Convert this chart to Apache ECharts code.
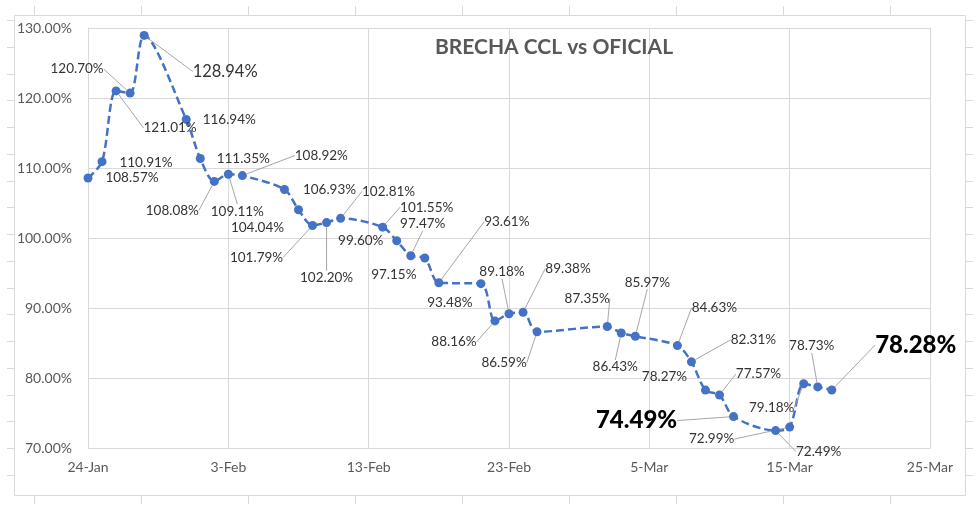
<!DOCTYPE html>
<html><head><meta charset="utf-8">
<script src="https://cdn.jsdelivr.net/npm/echarts@6/dist/echarts.min.js"></script>
<style>html,body{margin:0;padding:0;background:#fff}#c{width:980px;height:512px}</style>
</head><body><div id="c"></div>
<script>
// ---- data ----
const startDate = '2022-01-24';
const dates = ['2022-01-24','2022-01-25','2022-01-26','2022-01-27','2022-01-28','2022-01-31','2022-02-01','2022-02-02','2022-02-03','2022-02-04',
  '2022-02-07','2022-02-08','2022-02-09','2022-02-10','2022-02-11','2022-02-14','2022-02-15','2022-02-16','2022-02-17','2022-02-18',
  '2022-02-21','2022-02-22','2022-02-23','2022-02-24','2022-02-25','2022-03-02','2022-03-03','2022-03-04','2022-03-07','2022-03-08',
  '2022-03-09','2022-03-10','2022-03-11','2022-03-14','2022-03-15','2022-03-16','2022-03-17','2022-03-18'];
const values = [108.57,110.91,121.01,120.70,128.94,116.94,111.35,108.08,109.11,108.92,
  106.93,104.04,101.79,102.20,102.81,101.55,99.60,97.47,97.15,93.61,
  93.48,88.16,89.18,89.38,86.59,87.35,86.43,85.97,84.63,82.31,
  78.27,77.57,74.49,72.49,72.99,79.18,78.73,78.28];
const xTickLabels = ['24-Jan','3-Feb','13-Feb','23-Feb','5-Mar','15-Mar','25-Mar'];
const yMin = 70, yMax = 130, yStep = 10;
const xMin = 0, xMax = 60, xStep = 10;

// ---- label styling (offset of label centre from its point, leader flag, size) ----
const labelOffsets = [[44,0],[44,1],[54,37],[-53,-24],[81,36],[43,0],[43,0],[-42,29],[9,37],[79,-20],
  [45,0],[-41,18],[-56,32],[0,55],[48,-27],[44,-20],[-36,0],[12,-32],[-31,17],[68,-61],
  [-31,19],[-41,21],[-7,-42],[45,-44],[-33,31],[-20,-28],[-6,34],[12,-54],[37,-38],[62,-22],
  [-41,-13],[39,-21],[-97,4],[43,21],[-78,12],[-32,24],[-6,-41],[84,-45]];
const noLeader = [0,1,5,6,10,11,16,18,20,30];
const bigLabels = {4:{fontSize:16.5,fontWeight:'normal'},32:{fontSize:24,fontWeight:900,color:'#000'},37:{fontSize:24,fontWeight:900,color:'#000'}};

const dayMs = 86400000;
const t0 = Date.parse(startDate + 'T00:00:00Z');
const dayOf = d => Math.round((Date.parse(d + 'T00:00:00Z') - t0) / dayMs);

const seriesData = dates.map((d, i) => {
  const item = {value: [dayOf(d), values[i]], labelLine: {show: noLeader.indexOf(i) < 0}};
  if (bigLabels[i]) item.label = bigLabels[i];
  return item;
});

// decorative outer frame
const frame = [{type:'rect', shape:{x:14.5,y:15.5,width:951,height:480}, style:{fill:'none', stroke:'#d9d9d9', lineWidth:1}, silent:true}];
for (let k = 0; k < 9; k++) {
  const x = 34.5 + 107 * k;
  frame.push({type:'line', shape:{x1:x,y1:6,x2:x,y2:15}, style:{stroke:'#d9d9d9',lineWidth:1}, silent:true});
  frame.push({type:'line', shape:{x1:x,y1:496,x2:x,y2:504}, style:{stroke:'#d9d9d9',lineWidth:1}, silent:true});
}
for (let k = 0; k < 18; k++) {
  const y = Math.round(20 + 26.75 * k) + 0.5;
  frame.push({type:'line', shape:{x1:7,y1:y,x2:14,y2:y}, style:{stroke:'#d9d9d9',lineWidth:1}, silent:true});
  frame.push({type:'line', shape:{x1:966,y1:y,x2:973,y2:y}, style:{stroke:'#d9d9d9',lineWidth:1}, silent:true});
}

const chart = echarts.init(document.getElementById('c'), null, {renderer:'canvas'});
chart.setOption({
  animation: false,
  backgroundColor: '#fff',
  textStyle: {fontFamily: 'Lato'},
  graphic: frame,
  title: {
    text: 'BRECHA CCL vs OFICIAL', left: 549, top: 32, textAlign: 'center',
    textStyle: {fontFamily:'Lato', fontSize: 21, fontWeight: 'bold', color: '#595959'}
  },
  grid: {left: 88, right: 50, top: 28, bottom: 64},
  xAxis: {
    type: 'value', min: xMin, max: xMax, interval: xStep,
    axisLine: {show: true, lineStyle: {color: '#d9d9d9'}},
    axisTick: {show: false},
    splitLine: {show: true, lineStyle: {color: '#d9d9d9'}},
    axisLabel: {color: '#595959', fontSize: 14, fontFamily: 'Lato', margin: 12,
      formatter: v => xTickLabels[Math.round((v - xMin) / xStep)] || ''}
  },
  yAxis: {
    type: 'value', min: yMin, max: yMax, interval: yStep,
    axisLine: {show: true, lineStyle: {color: '#d9d9d9'}},
    axisTick: {show: false},
    splitLine: {show: true, lineStyle: {color: '#d9d9d9'}},
    axisLabel: {color: '#595959', fontSize: 14, fontFamily: 'Lato', margin: 16,
      formatter: v => v.toFixed(2) + '%'}
  },
  series: [{
    type: 'line',
    data: seriesData,
    smooth: 0.3,
    symbol: 'circle', symbolSize: 9,
    itemStyle: {color: '#4472C4'},
    lineStyle: {color: '#4472C4', width: 2.5, type: [8, 4]},
    label: {
      show: true, position: 'inside', color: '#333333', fontSize: 13.5, fontFamily: 'Lato',
      formatter: p => p.value[1].toFixed(2) + '%'
    },
    labelLine: {show: true, lineStyle: {color: '#a6a6a6', width: 1}},
    labelLayout: function (params) {
      const o = labelOffsets[params.dataIndex];
      const r = params.rect;
      return {x: r.x + r.width / 2 + o[0], y: r.y + r.height / 2 + o[1], align: 'center', verticalAlign: 'middle'};
    }
  }]
});
</script></body></html>
